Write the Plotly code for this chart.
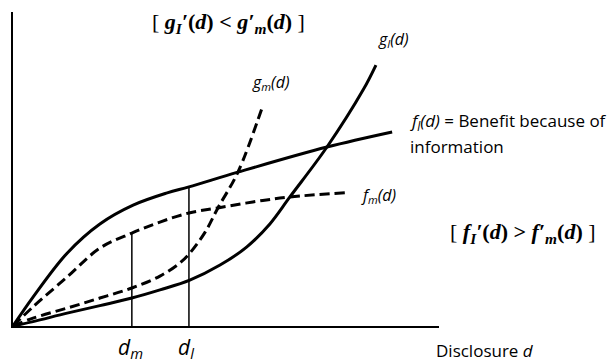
import plotly.graph_objects as go

# Curves (disclosure on x, value on y, both 0-100)
fl_x = [0, 4.7, 12.7, 20.4, 28.2, 36.2, 41.3, 52.8, 73.7, 89.0]
fl_y = [0, 9.2, 23.2, 32.5, 38.5, 42.4, 44.3, 49.0, 57.0, 61.8]

fm_x = [0, 4.7, 12.7, 20.4, 27.9, 34.5, 41.3, 48.1, 56.3, 65.0, 77.9]
fm_y = [0, 6.1, 15.6, 24.8, 29.6, 33.1, 36.0, 37.6, 39.5, 41.1, 42.4]

gm_x = [0, 4.7, 12.7, 20.4, 27.9, 34.5, 39.2, 41.5, 45.1, 48.1, 52.8, 58.7]
gm_y = [0, 2.5, 5.7, 8.9, 12.1, 15.9, 20.1, 23.2, 29.9, 37.6, 49.0, 70.4]

gl_x = [0, 4.7, 12.7, 20.4, 27.9, 34.5, 41.5, 48.6, 54.9, 60.3, 65.0, 73.7, 82.2, 85.2]
gl_y = [0, 1.4, 4.1, 6.5, 8.9, 11.5, 14.6, 19.4, 25.2, 32.5, 41.1, 57.0, 75.2, 83.1]

# optimal disclosure levels and the height of the drop lines
d_m, d_m_top = 27.9, 29.6
d_l, d_l_top = 41.3, 44.3

fig = go.Figure()

solid = dict(color='black', width=3)
dashed = dict(color='black', width=3, dash='10px,5px')

fig.add_trace(go.Scatter(x=fl_x, y=fl_y, mode='lines', line=solid, line_shape='spline'))
fig.add_trace(go.Scatter(x=fm_x, y=fm_y, mode='lines', line=dashed, line_shape='spline'))
fig.add_trace(go.Scatter(x=gm_x, y=gm_y, mode='lines', line=dashed, line_shape='spline'))
fig.add_trace(go.Scatter(x=gl_x, y=gl_y, mode='lines', line=solid, line_shape='spline'))

# vertical drop lines at d_m and d_l
fig.add_trace(go.Scatter(x=[d_m, d_m], y=[0, d_m_top], mode='lines', line=dict(color='black', width=1.5)))
fig.add_trace(go.Scatter(x=[d_l, d_l], y=[0, d_l_top], mode='lines', line=dict(color='black', width=1.5)))

sans = dict(family='Open Sans', size=16, color='black')
sans17 = dict(family='Open Sans', size=17, color='black')
big = dict(family='Open Sans', size=21, color='black')
serif = dict(family='Liberation Serif', size=22, color='black')

# (x, y) in paper fractions of the axes box
notes = [
    (0.505, 0.965, '[ <b><i>g<sub>I</sub>′</i>(<i>d</i>) < <i>g′<sub>m</sub></i>(<i>d</i>)</b> ]', serif, 'center'),
    (1.197, 0.296, '[ <b><i>f<sub>I</sub>′</i>(<i>d</i>) > <i>f′<sub>m</sub></i>(<i>d</i>)</b> ]', serif, 'center'),
    (0.852, 0.911, '<i>g<sub>l</sub>(d)</i>', sans, 'left'),
    (0.556, 0.777, '<i>g<sub>m</sub>(d)</i>', sans, 'left'),
    (0.927, 0.650, '<i>f<sub>l</sub>(d)</i> = Benefit because of', sans17, 'left'),
    (0.927, 0.573, 'information', sans17, 'left'),
    (0.812, 0.417, '<i>f<sub>m</sub>(d)</i>', sans, 'left'),
    (0.988, -0.078, 'Disclosure <i>d</i>', sans17, 'left'),
    (0.275, -0.07, '<i>d<sub>m</sub></i>', big, 'center'),
    (0.406, -0.07, '<i>d<sub>l</sub></i>', big, 'center'),
]
for x, y, text, font, anchor in notes:
    fig.add_annotation(x=x, y=y, xref='paper', yref='paper', text=text, font=font,
                       showarrow=False, xanchor=anchor, yanchor='middle')

# the page body adds 8px around the figure, so the figure is 8px smaller
fig.update_layout(
    width=608, height=352,
    margin=dict(l=5, r=177, t=4, b=34),
    plot_bgcolor='white', paper_bgcolor='white',
    showlegend=False,
)
fig.update_xaxes(range=[0, 100], showgrid=False, zeroline=False, showticklabels=False,
                 ticks='', showline=True, linecolor='black', linewidth=2)
fig.update_yaxes(range=[0, 100], showgrid=False, zeroline=False, showticklabels=False,
                 ticks='', showline=True, linecolor='black', linewidth=2)

fig.write_html("out.html")
